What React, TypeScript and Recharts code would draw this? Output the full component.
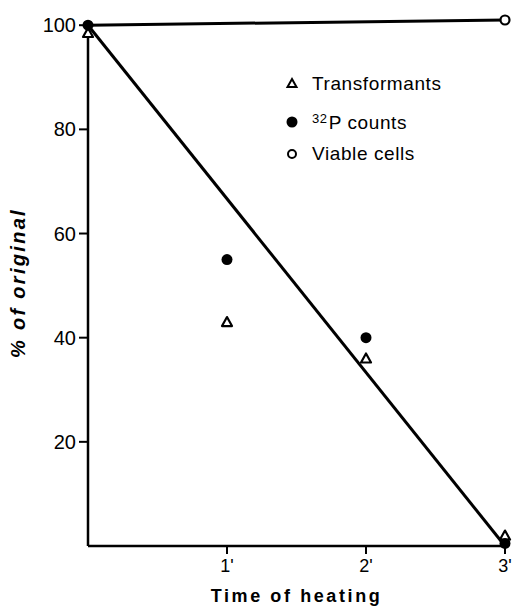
import React from 'react';
import {
  ComposedChart,
  Line,
  Scatter,
  XAxis,
  YAxis,
  Legend,
} from 'recharts';

// Time of heating (minutes)
const TIMES = [0, 1, 2, 3];
const X_TICKS = [1, 2, 3];
const X_TICK_LABELS: Record<number, string> = { 1: "1'", 2: "2'", 3: "3'" };
const Y_TICKS = [20, 40, 60, 80, 100];

// % of original
const TRANSFORMANTS = [98.5, 43, 36, 2];
const P32_COUNTS = [100, 55, 40, 0.5];
const VIABLE_TIMES = [0, 3];
const VIABLE_CELLS = [100, 101];

// fitted decline line
const FIT_TIMES = [0, 3];
const FIT_VALUES = [100, 0];

const toPoints = (xs: number[], ys: number[]) => xs.map((x, i) => ({ x, y: ys[i] }));

const transformData = toPoints(TIMES, TRANSFORMANTS);
const p32Data = toPoints(TIMES, P32_COUNTS);
const viableData = toPoints(VIABLE_TIMES, VIABLE_CELLS);
const fitData = toPoints(FIT_TIMES, FIT_VALUES);

const FONT = '"Liberation Sans", Arial, sans-serif';

const TriangleMark = (props: any) => {
  const { cx, cy } = props;
  if (cx == null || cy == null) return null;
  return (
    <path
      d={`M${cx},${cy - 5} L${cx + 5},${cy + 4} L${cx - 5},${cy + 4} Z`}
      fill="#fff"
      stroke="#000"
      strokeWidth={2.2}
      strokeLinejoin="round"
    />
  );
};

const DotMark = (props: any) => {
  const { cx, cy } = props;
  if (cx == null || cy == null) return null;
  return <circle cx={cx} cy={cy} r={5.5} fill="#000" />;
};

const OpenMark = (props: any) => {
  const { cx, cy, payload } = props;
  if (cx == null || cy == null || payload?.x === 0) return null;
  return <circle cx={cx} cy={cy} r={4.5} fill="#fff" stroke="#000" strokeWidth={2.2} />;
};

const LegendBox = () => {
  const row = (top: number, symbol: React.ReactNode, label: React.ReactNode) => (
    <div style={{ position: 'absolute', top, left: 0, height: 24, display: 'flex', alignItems: 'center' }}>
      <svg width={16} height={16} style={{ marginRight: 12 }}>
        {symbol}
      </svg>
      <span style={{ fontFamily: FONT, fontSize: 19, color: '#000', letterSpacing: 0.6, whiteSpace: 'nowrap' }}>
        {label}
      </span>
    </div>
  );
  return (
    <div style={{ position: 'relative', width: 220, height: 110 }}>
      {row(0, <path d="M8,3 L12.5,11 L3.5,11 Z" fill="#fff" stroke="#000" strokeWidth={2} />, 'Transformants')}
      {row(38, <circle cx={8} cy={8} r={5.5} fill="#000" />, (
        <>
          <sup style={{ fontSize: 13, verticalAlign: 6, marginRight: 1 }}>32</sup>P counts
        </>
      ))}
      {row(70, <circle cx={8} cy={8} r={4} fill="#fff" stroke="#000" strokeWidth={2} />, 'Viable cells')}
    </div>
  );
};

export default function App() {
  return (
    <div style={{ position: 'absolute', left: 0, top: 0, background: '#fff' }}>
      <ComposedChart
        width={516}
        height={607}
        margin={{ top: 20, right: 11, bottom: 6, left: 0 }}
        style={{ fontFamily: FONT }}
      >
        <XAxis
          dataKey="x"
          type="number"
          domain={[0, 3]}
          ticks={X_TICKS}
          tickFormatter={(v: number) => X_TICK_LABELS[v] ?? ''}
          height={55}
          stroke="#000"
          axisLine={{ stroke: '#000', strokeWidth: 2.5 }}
          tickLine={{ stroke: '#000', strokeWidth: 2 }}
          tickSize={8}
          tickMargin={5}
          tick={{ fill: '#000', fontSize: 18 }}
          label={{
            value: 'Time of heating',
            position: 'insideBottom',
            offset: -1,
            style: { fill: '#000', fontSize: 18, fontWeight: 'bold', letterSpacing: 2.6 },
          }}
        />
        <YAxis
          dataKey="y"
          type="number"
          domain={[0, 101]}
          ticks={Y_TICKS}
          width={88}
          stroke="#000"
          axisLine={{ stroke: '#000', strokeWidth: 2.5 }}
          tickLine={{ stroke: '#000', strokeWidth: 2 }}
          tickSize={9}
          tickMargin={3}
          tick={{ fill: '#000', fontSize: 20 }}
          label={{
            value: '% of original',
            angle: -90,
            position: 'insideLeft',
            offset: 18,
            dy: 0,
            style: {
              fill: '#000',
              fontSize: 20,
              fontStyle: 'italic',
              fontWeight: 'bold',
              letterSpacing: 2.3,
              textAnchor: 'middle',
            },
          }}
        />
        <Legend
          layout="horizontal"
          verticalAlign="middle"
          content={() => <LegendBox />}
          wrapperStyle={{ position: 'absolute', left: 284, top: 72, width: 220, height: 110 }}
        />
        <Line
          data={viableData}
          dataKey="y"
          stroke="#000"
          strokeWidth={3}
          dot={false}
          activeDot={false}
          isAnimationActive={false}
          legendType="none"
        />
        <Line
          data={fitData}
          dataKey="y"
          stroke="#000"
          strokeWidth={3}
          dot={false}
          activeDot={false}
          isAnimationActive={false}
          legendType="none"
        />
        <Scatter data={transformData} dataKey="y" shape={TriangleMark} isAnimationActive={false} />
        <Scatter data={p32Data} dataKey="y" shape={DotMark} isAnimationActive={false} />
        <Scatter data={viableData} dataKey="y" shape={OpenMark} isAnimationActive={false} />
      </ComposedChart>
    </div>
  );
}
